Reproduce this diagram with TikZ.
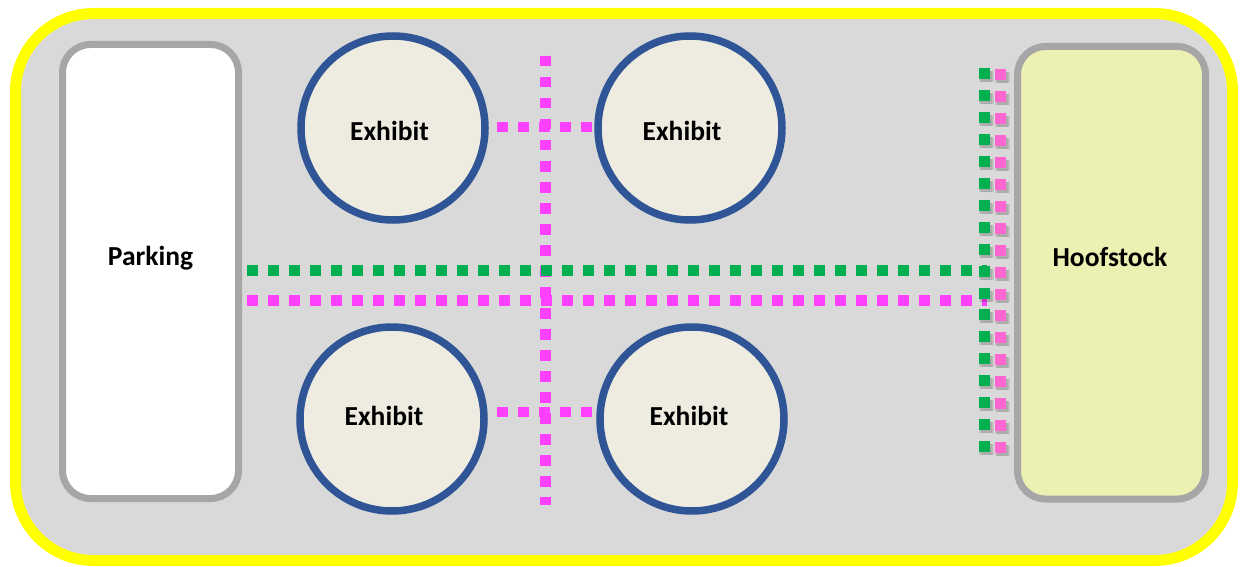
\documentclass[tikz,border=0pt]{standalone}
\usepackage{fontspec}
\setmainfont{Carlito}
\definecolor{sitefill}{HTML}{D9D9D9}
\definecolor{siteedge}{HTML}{FFFF00}
\definecolor{boxedge}{HTML}{A6A6A6}
\definecolor{hooffill}{RGB}{236,240,178}
\definecolor{ringedge}{HTML}{2F5597}
\definecolor{ringfill}{HTML}{EEECE1}
\definecolor{pathgreen}{HTML}{00B050}
\definecolor{pathmagenta}{HTML}{FF40FF}
\definecolor{pathpink}{HTML}{FF66D2}
\begin{document}
\begin{tikzpicture}[x=1pt,y=-1pt,
  site/.style={draw=siteedge,fill=sitefill,line width=11pt,rounded corners=78pt,
    minimum width=1217pt,minimum height=547pt,inner sep=0pt},
  area/.style={draw=boxedge,line width=7pt,rounded corners=28pt,inner sep=0pt},
  exhibit/.style={circle,draw=ringedge,fill=ringfill,line width=7.5pt,
    minimum size=184pt,inner sep=0pt},
  lbl/.style={font=\bfseries\fontsize{27.5pt}{30pt}\selectfont,inner sep=0pt,anchor=center},
  walk/.style={line width=10.5pt,dash pattern=on 10.5pt off 10.5pt},
  sidewalk/.style={line width=11pt,dash pattern=on 11pt off 10.95pt},
  dropshadow/.style={sidewalk,draw=black,opacity=0.07}
]
\useasboundingbox (0,0) rectangle (1242,567);
\fill[white] (0,0) rectangle (1242,567);

% grounds
\node[site] (grounds) at (624,287) {};

% parking lot and hoofstock paddock
\node[area,fill=white,minimum width=176pt,minimum height=454pt] (parking) at (150.5,271.5) {};
\node[area,fill=hooffill,minimum width=188pt,minimum height=452.5pt] (hoofstock) at (1111.5,272.75) {};
\node[lbl] (parkinglbl) at (150.5,258) {Parking};
\node[lbl] (hoofstocklbl) at (1110,257) {Hoofstock};

% exhibits
\node[exhibit] (ex1) at (393,128) {};
\node[exhibit] (ex2) at (690,128) {};
\node[exhibit] (ex3) at (392,419) {};
\node[exhibit] (ex4) at (692,419) {};
\node[lbl] (ex1lbl) at (389.5,131) {Exhibit};
\node[lbl] (ex2lbl) at (682,131) {Exhibit};
\node[lbl] (ex3lbl) at (384,416) {Exhibit};
\node[lbl] (ex4lbl) at (689,416) {Exhibit};

% path end points
\coordinate (gw) at (247,270.5);
\coordinate (ge) at (987,270.5);
\coordinate (mw) at (247,300.5);
\coordinate (me) at (987,300.5);
\coordinate (vn) at (545.5,56);
\coordinate (vs) at (545.5,505);
\coordinate (tw) at (497,127);
\coordinate (te) at (592,127);
\coordinate (bw) at (497,412);
\coordinate (be) at (592,412);
\coordinate (gn) at (984.5,68);
\coordinate (gs) at (984.5,452);
\coordinate (pn) at (1000,69);
\coordinate (ps) at (1000,453);

% pedestrian paths
\draw[walk,pathmagenta] (vn) -- (vs);
\draw[walk,pathmagenta] (tw) -- (te);
\draw[walk,pathmagenta] (bw) -- (be);
\draw[walk,pathmagenta] (mw) -- (me);
\draw[walk,pathgreen] (gw) -- (ge);

% paths along the paddock fence, with a soft shadow
\foreach \w in {11,13,15}{
  \draw[dropshadow,line width=\w pt] ([shift={(2,3)}]gn) -- ([shift={(2,3)}]gs);
  \draw[dropshadow,line width=\w pt] ([shift={(2,3)}]pn) -- ([shift={(2,3)}]ps);
}
\draw[sidewalk,pathgreen] (gn) -- (gs);
\draw[sidewalk,pathpink] (pn) -- (ps);
\end{tikzpicture}
\end{document}
